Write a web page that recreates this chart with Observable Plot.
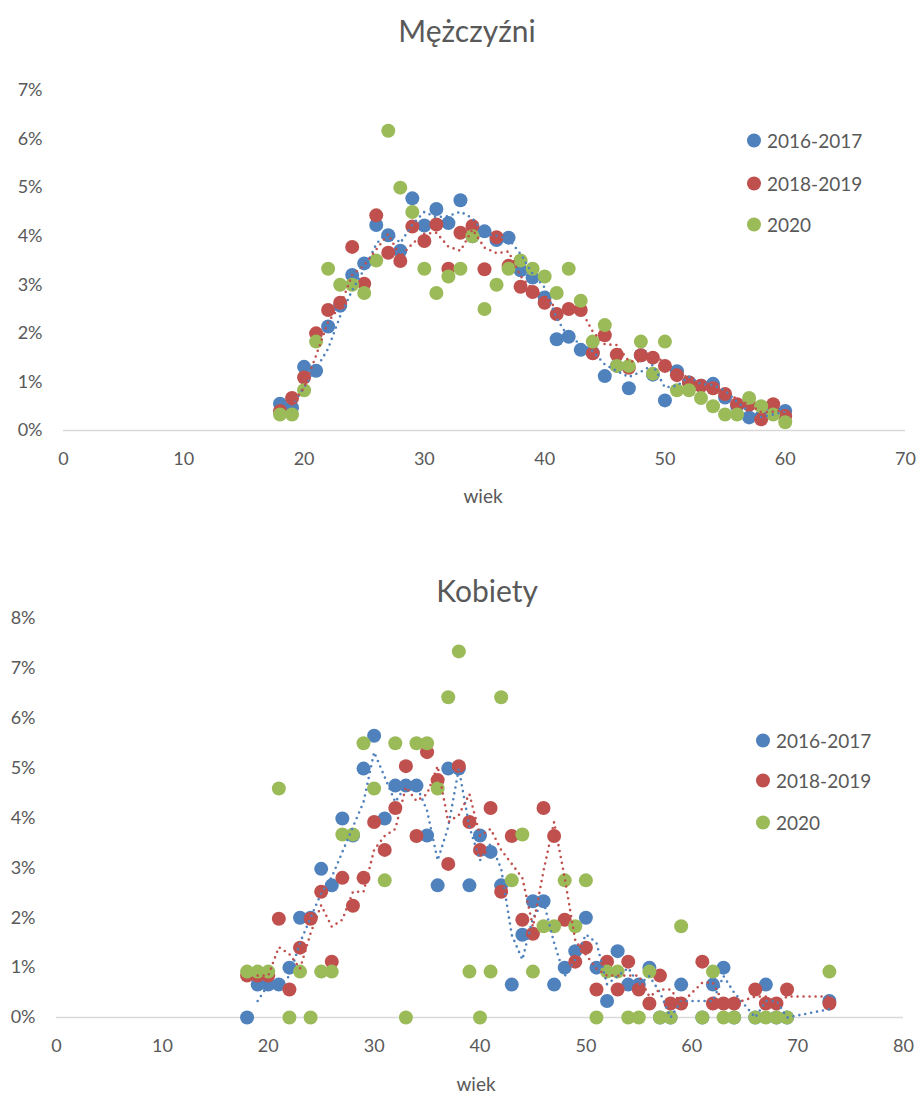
<!DOCTYPE html>
<html><head><meta charset="utf-8">
<script src="https://cdn.jsdelivr.net/npm/d3@7"></script>
<script src="https://cdn.jsdelivr.net/npm/@observablehq/plot@0.6"></script>
<style>
body{margin:0;background:#fff;font-family:Lato,sans-serif;color:#595959}
#wrap{position:relative;width:918px;height:1093px;overflow:hidden;background:#fff}
.abs{position:absolute;white-space:nowrap}
.title{font-size:30px;transform:translate(-50%,-50%)}
.axlab{font-size:19px;transform:translate(-50%,-50%)}
.leg{font-size:19px;transform:translateY(-50%);display:flex;align-items:center}
.leg i{display:inline-block;width:14px;height:14px;border-radius:50%;margin-right:6px;margin-left:-7px}
svg{position:absolute;left:0}
</style></head><body><div id="wrap"></div>
<script>
const seriesNames = ["2016-2017", "2018-2019", "2020"];
const colors = ["#4F81BD", "#C0504D", "#9BBB59"];
const xTicksMen = [0, 10, 20, 30, 40, 50, 60, 70];
const yTicksMen = [0, 1, 2, 3, 4, 5, 6, 7];
const xTicksWomen = [0, 10, 20, 30, 40, 50, 60, 70, 80];
const yTicksWomen = [0, 1, 2, 3, 4, 5, 6, 7, 8];

// Mężczyźni (values in %)
const menAges = [18,19,20,21,22,23,24,25,26,27,28,29,30,31,32,33,34,35,36,37,38,39,40,41,42,43,44,45,46,47,48,49,50,51,52,53,54,55,56,57,58,59,60];
const men1617 = [0.55,0.47,1.31,1.23,2.14,2.57,3.20,3.44,4.23,4.02,3.70,4.78,4.22,4.56,4.27,4.74,4.00,4.10,3.92,3.97,3.30,3.15,2.74,1.88,1.93,1.66,1.60,1.12,1.33,0.87,1.55,1.15,0.62,1.22,0.99,0.92,0.96,0.68,0.50,0.27,0.28,0.38,0.40];
const men1819 = [0.40,0.67,1.09,2.00,2.48,2.63,3.78,3.02,4.43,3.66,3.49,4.20,3.90,4.24,3.33,4.07,4.21,3.32,3.98,3.39,2.96,2.85,2.63,2.40,2.50,2.48,1.59,1.96,1.56,1.29,1.55,1.50,1.33,1.14,0.99,0.92,0.87,0.75,0.54,0.53,0.23,0.54,0.30];
const men2020 = [0.33,0.33,0.83,1.83,3.33,3.00,3.00,2.83,3.50,6.17,5.00,4.50,3.33,2.83,3.17,3.33,4.00,2.50,3.00,3.33,3.50,3.33,3.17,2.83,3.33,2.67,1.83,2.17,1.33,1.33,1.83,1.17,1.83,0.83,0.83,0.67,0.50,0.33,0.33,0.67,0.50,0.33,0.17];

// Kobiety (values in %)
const womenAges = [18,19,20,21,22,23,24,25,26,27,28,29,30,31,32,33,34,35,36,37,38,39,40,41,42,43,44,45,46,47,48,49,50,51,52,53,54,55,56,57,58,59,61,62,63,64,66,67,68,69,73];
const women1617 = [0,0.66,0.66,0.66,1.00,2.00,2.00,2.98,2.65,3.99,3.65,4.99,5.65,3.99,4.65,4.65,4.65,3.65,2.65,4.99,4.99,2.65,3.65,3.32,2.65,0.66,1.66,2.33,2.33,0.66,1.00,1.33,2.00,1.00,0.33,1.33,0.66,0.66,1.00,0,0,0.66,0,0.66,1.00,0,0,0.66,0,0,0.33];
const women1819 = [0.84,0.84,0.84,1.98,0.56,1.40,1.98,2.52,1.12,2.80,2.24,2.80,3.92,3.36,4.20,5.04,3.64,5.32,4.76,3.08,5.04,3.92,3.36,4.20,2.52,3.64,1.96,1.68,4.20,3.64,1.96,1.12,1.40,0.56,1.12,0.56,1.12,0.56,0.28,0.84,0.28,0.28,1.12,0.28,0.28,0.28,0.56,0.28,0.28,0.56,0.28];
const women2020 = [0.92,0.92,0.92,4.59,0,0.92,0,0.92,0.92,3.67,3.67,5.50,4.59,2.75,5.50,0,5.50,5.50,4.59,6.42,7.34,0.92,0,0.92,6.42,2.75,3.67,0.92,1.83,1.83,2.75,1.83,2.75,0,0.92,0.92,0,0,0.92,0,0,1.83,0,0.92,0,0,0,0,0,0,0.92];

function panel({ages, s1, s2, s3, xTicks, yTicks, height, ml, mr, mt, mb}) {
  const rows = (vals, s) => ages.map((a, j) => ({age: a, value: vals[j], series: s}));
  const A = rows(s1, seriesNames[0]), B = rows(s2, seriesNames[1]), C = rows(s3, seriesNames[2]);
  const dotOpts = {x: "age", y: "value", fill: "series", r: 7};
  const trend = (data) => Plot.line(data, Plot.windowY({k: 2, anchor: "end", strict: true},
    {x: "age", y: "value", stroke: "series", strokeWidth: 2.6, strokeDasharray: "0 6", strokeLinecap: "round"}));
  return Plot.plot({
    width: 918, height,
    marginLeft: ml, marginRight: mr, marginTop: mt, marginBottom: mb,
    style: {fontFamily: "Lato, sans-serif", fontSize: "18px", color: "#595959", background: "transparent", overflow: "visible"},
    x: {domain: [xTicks[0], xTicks[xTicks.length - 1]], ticks: xTicks, tickSize: 0, tickPadding: 22, label: null},
    y: {domain: [yTicks[0], yTicks[yTicks.length - 1]], ticks: yTicks, tickSize: 0, tickPadding: 21, tickFormat: d => d + "%", label: null},
    color: {domain: seriesNames, range: colors},
    marks: [
      Plot.ruleY([0], {stroke: "#d9d9d9", strokeWidth: 1.3}),
      Plot.dot(A, dotOpts),
      Plot.dot(B, dotOpts),
      Plot.dot(C, dotOpts),
      trend(A),
      trend(B)
    ]
  });
}

const wrap = document.getElementById("wrap");
const top1 = panel({ages: menAges, s1: men1617, s2: men1819, s3: men2020, xTicks: xTicksMen, yTicks: yTicksMen,
  height: 520, ml: 63, mr: 13, mt: 90, mb: 90});
top1.style.top = "0px";
wrap.appendChild(top1);
const top2 = panel({ages: womenAges, s1: women1617, s2: women1819, s3: women2020, xTicks: xTicksWomen, yTicks: yTicksWomen,
  height: 533, ml: 56, mr: 15, mt: 58, mb: 76});
top2.style.top = "560px";
wrap.appendChild(top2);

function addText(cls, txt, x, y) {
  const d = document.createElement("div");
  d.className = "abs " + cls; d.textContent = txt;
  d.style.left = x + "px"; d.style.top = y + "px";
  wrap.appendChild(d);
}
addText("title", "Mężczyźni", 467, 30);
addText("title", "Kobiety", 487, 590);
addText("axlab", "wiek", 483, 495);
addText("axlab", "wiek", 476, 1083);

function legend(x, ys) {
  seriesNames.forEach((name, i) => {
    const d = document.createElement("div");
    d.className = "abs leg";
    d.style.left = x + "px"; d.style.top = ys[i] + "px";
    const c = document.createElement("i"); c.style.background = colors[i];
    d.appendChild(c); d.appendChild(document.createTextNode(name));
    wrap.appendChild(d);
  });
}
legend(754, [140, 183, 224]);
legend(763, [740, 780, 822]);
</script></body></html>
